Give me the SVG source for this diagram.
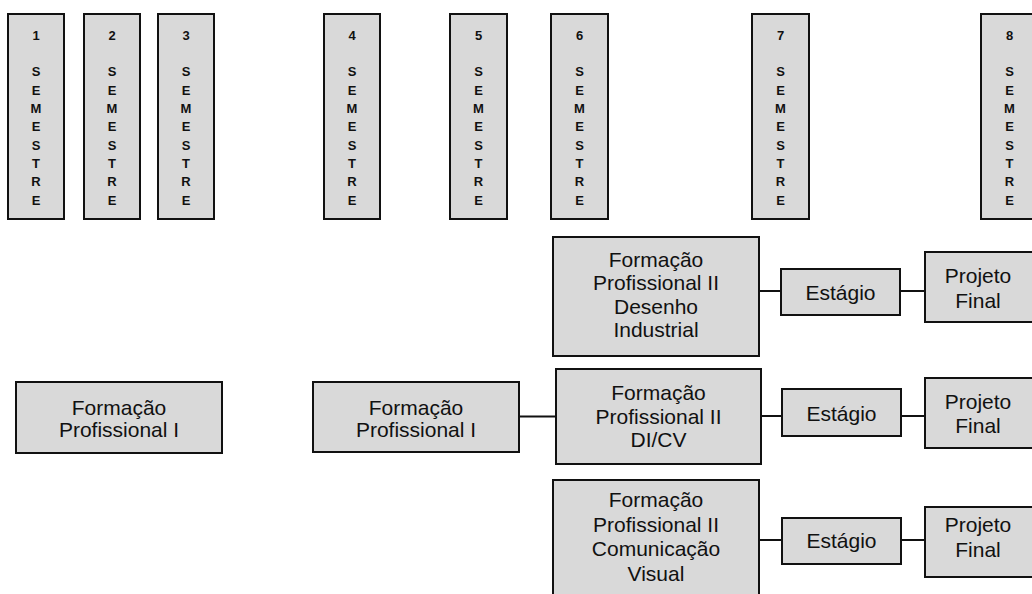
<svg xmlns="http://www.w3.org/2000/svg" width="1032" height="594" viewBox="0 0 1032 594">
  <style>
    .box { fill: #d9d9d9; stroke: #111; stroke-width: 2; }
    .sem { font-family: "Liberation Sans", Arial, sans-serif; font-size: 13px; font-weight: bold; fill: #111; text-anchor: middle; }
    .lbl { font-family: "Liberation Sans", Arial, sans-serif; font-size: 21px; fill: #111; text-anchor: middle; }
    .link { stroke: #111; stroke-width: 2; fill: none; }
  </style>

  <!-- semester columns -->
  <g id="sem1"><rect class="box" x="8" y="14" width="56" height="205"/>
    <text class="sem" x="36" y="40"><tspan x="36">1</tspan><tspan x="36" dy="36.4">S</tspan><tspan x="36" dy="18.3">E</tspan><tspan x="36" dy="18.3">M</tspan><tspan x="36" dy="18.3">E</tspan><tspan x="36" dy="18.3">S</tspan><tspan x="36" dy="18.3">T</tspan><tspan x="36" dy="18.3">R</tspan><tspan x="36" dy="18.3">E</tspan></text></g>
  <g id="sem2"><rect class="box" x="84" y="14" width="56" height="205"/>
    <text class="sem" x="112" y="40"><tspan x="112">2</tspan><tspan x="112" dy="36.4">S</tspan><tspan x="112" dy="18.3">E</tspan><tspan x="112" dy="18.3">M</tspan><tspan x="112" dy="18.3">E</tspan><tspan x="112" dy="18.3">S</tspan><tspan x="112" dy="18.3">T</tspan><tspan x="112" dy="18.3">R</tspan><tspan x="112" dy="18.3">E</tspan></text></g>
  <g id="sem3"><rect class="box" x="158" y="14" width="56" height="205"/>
    <text class="sem" x="186" y="40"><tspan x="186">3</tspan><tspan x="186" dy="36.4">S</tspan><tspan x="186" dy="18.3">E</tspan><tspan x="186" dy="18.3">M</tspan><tspan x="186" dy="18.3">E</tspan><tspan x="186" dy="18.3">S</tspan><tspan x="186" dy="18.3">T</tspan><tspan x="186" dy="18.3">R</tspan><tspan x="186" dy="18.3">E</tspan></text></g>
  <g id="sem4"><rect class="box" x="324" y="14" width="56" height="205"/>
    <text class="sem" x="352" y="40"><tspan x="352">4</tspan><tspan x="352" dy="36.4">S</tspan><tspan x="352" dy="18.3">E</tspan><tspan x="352" dy="18.3">M</tspan><tspan x="352" dy="18.3">E</tspan><tspan x="352" dy="18.3">S</tspan><tspan x="352" dy="18.3">T</tspan><tspan x="352" dy="18.3">R</tspan><tspan x="352" dy="18.3">E</tspan></text></g>
  <g id="sem5"><rect class="box" x="450" y="14" width="57" height="205"/>
    <text class="sem" x="478.5" y="40"><tspan x="478.5">5</tspan><tspan x="478.5" dy="36.4">S</tspan><tspan x="478.5" dy="18.3">E</tspan><tspan x="478.5" dy="18.3">M</tspan><tspan x="478.5" dy="18.3">E</tspan><tspan x="478.5" dy="18.3">S</tspan><tspan x="478.5" dy="18.3">T</tspan><tspan x="478.5" dy="18.3">R</tspan><tspan x="478.5" dy="18.3">E</tspan></text></g>
  <g id="sem6"><rect class="box" x="551" y="14" width="57" height="205"/>
    <text class="sem" x="579.5" y="40"><tspan x="579.5">6</tspan><tspan x="579.5" dy="36.4">S</tspan><tspan x="579.5" dy="18.3">E</tspan><tspan x="579.5" dy="18.3">M</tspan><tspan x="579.5" dy="18.3">E</tspan><tspan x="579.5" dy="18.3">S</tspan><tspan x="579.5" dy="18.3">T</tspan><tspan x="579.5" dy="18.3">R</tspan><tspan x="579.5" dy="18.3">E</tspan></text></g>
  <g id="sem7"><rect class="box" x="752" y="14" width="57" height="205"/>
    <text class="sem" x="780.5" y="40"><tspan x="780.5">7</tspan><tspan x="780.5" dy="36.4">S</tspan><tspan x="780.5" dy="18.3">E</tspan><tspan x="780.5" dy="18.3">M</tspan><tspan x="780.5" dy="18.3">E</tspan><tspan x="780.5" dy="18.3">S</tspan><tspan x="780.5" dy="18.3">T</tspan><tspan x="780.5" dy="18.3">R</tspan><tspan x="780.5" dy="18.3">E</tspan></text></g>
  <g id="sem8"><rect class="box" x="981" y="14" width="57" height="205"/>
    <text class="sem" x="1009.5" y="40"><tspan x="1009.5">8</tspan><tspan x="1009.5" dy="36.4">S</tspan><tspan x="1009.5" dy="18.3">E</tspan><tspan x="1009.5" dy="18.3">M</tspan><tspan x="1009.5" dy="18.3">E</tspan><tspan x="1009.5" dy="18.3">S</tspan><tspan x="1009.5" dy="18.3">T</tspan><tspan x="1009.5" dy="18.3">R</tspan><tspan x="1009.5" dy="18.3">E</tspan></text></g>

  <!-- connectors -->
  <g id="connectors">
    <line class="link" x1="759" y1="291" x2="781" y2="291"/>
    <line class="link" x1="900" y1="291" x2="925" y2="291"/>
    <line class="link" x1="519" y1="416.5" x2="556" y2="416.5"/>
    <line class="link" x1="761" y1="416" x2="782" y2="416"/>
    <line class="link" x1="901" y1="416" x2="925" y2="416"/>
    <line class="link" x1="759" y1="540" x2="782" y2="540"/>
    <line class="link" x1="901" y1="540" x2="925" y2="540"/>
  </g>

  <!-- courses -->
  <g id="fp1-a"><rect class="box" x="16" y="382" width="206" height="71"/>
    <text class="lbl" x="119" y="415"><tspan x="119">Formação</tspan><tspan x="119" dy="22">Profissional I</tspan></text></g>
  <g id="fp1-b"><rect class="box" x="313" y="382" width="206" height="70"/>
    <text class="lbl" x="416" y="415"><tspan x="416">Formação</tspan><tspan x="416" dy="22">Profissional I</tspan></text></g>

  <g id="fp2-di"><rect class="box" x="553" y="237" width="206" height="119"/>
    <text class="lbl" x="656" y="267"><tspan x="656">Formação</tspan><tspan x="656" dy="23.3">Profissional II</tspan><tspan x="656" dy="23.3">Desenho</tspan><tspan x="656" dy="23.3">Industrial</tspan></text></g>
  <g id="estagio-di"><rect class="box" x="781" y="269" width="119" height="46"/>
    <text class="lbl" x="840.5" y="300">Estágio</text></g>
  <g id="projeto-di"><rect class="box" x="925" y="252" width="115" height="70"/>
    <text class="lbl" x="978" y="283"><tspan x="978">Projeto</tspan><tspan x="978" dy="24.5">Final</tspan></text></g>

  <g id="fp2-dicv"><rect class="box" x="556" y="369" width="205" height="95"/>
    <text class="lbl" x="658.5" y="400"><tspan x="658.5">Formação</tspan><tspan x="658.5" dy="23.5">Profissional II</tspan><tspan x="658.5" dy="23.5">DI/CV</tspan></text></g>
  <g id="estagio-dicv"><rect class="box" x="782" y="389" width="119" height="47"/>
    <text class="lbl" x="841.5" y="420.5">Estágio</text></g>
  <g id="projeto-dicv"><rect class="box" x="925" y="378" width="115" height="70"/>
    <text class="lbl" x="978" y="408.5"><tspan x="978">Projeto</tspan><tspan x="978" dy="24.5">Final</tspan></text></g>

  <g id="fp2-cv"><rect class="box" x="553" y="480" width="206" height="130"/>
    <text class="lbl" x="656" y="507"><tspan x="656">Formação</tspan><tspan x="656" dy="24.5">Profissional II</tspan><tspan x="656" dy="24.5">Comunicação</tspan><tspan x="656" dy="24.5">Visual</tspan></text></g>
  <g id="estagio-cv"><rect class="box" x="782" y="518" width="119" height="46"/>
    <text class="lbl" x="841.5" y="548">Estágio</text></g>
  <g id="projeto-cv"><rect class="box" x="925" y="507" width="115" height="70"/>
    <text class="lbl" x="978" y="532"><tspan x="978">Projeto</tspan><tspan x="978" dy="24.5">Final</tspan></text></g>
</svg>
